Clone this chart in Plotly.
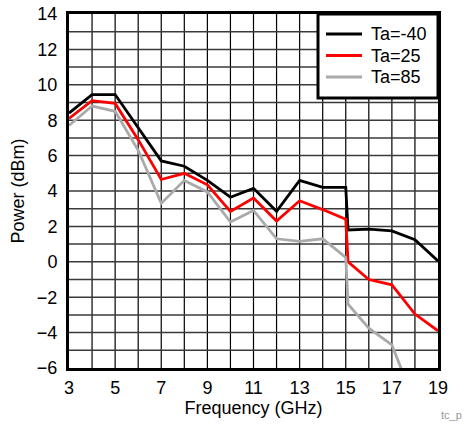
import plotly.graph_objects as go

# Output power vs frequency at three ambient temperatures
freq = [3, 4, 5, 6, 7, 8, 9, 10, 11, 12, 13, 14, 15, 15.1, 16, 17, 18, 19]
p_m40 = [8.4, 9.45, 9.45, 7.6, 5.7, 5.4, 4.6, 3.65, 4.15, 2.85, 4.6, 4.2, 4.2, 1.8, 1.85, 1.75, 1.25, 0.05]
p_25 = [8.1, 9.1, 8.95, 6.9, 4.65, 5.0, 4.35, 2.85, 3.6, 2.3, 3.45, 2.95, 2.4, 0.0, -1.0, -1.3, -2.95, -3.9]
p_85 = [7.7, 8.8, 8.5, 6.3, 3.3, 4.6, 3.95, 2.25, 2.9, 1.3, 1.15, 1.3, 0.25, -2.4, -3.75, -4.7, -8.0]

series_names = ["Ta=-40", "Ta=25", "Ta=85"]
series_colors = ["#000000", "#FF0000", "#AAAAAA"]

x_ticks = [3, 5, 7, 9, 11, 13, 15, 17, 19]
y_ticks = [-6, -4, -2, 0, 2, 4, 6, 8, 10, 12, 14]

FONT = "Liberation Sans, Arial, sans-serif"
W, H = 466, 425
ML, MR, MT, MB = 69, 28, 14, 57
PW, PH = W - ML - MR, H - MT - MB

fig = go.Figure()
for name, color, ys in zip(series_names, series_colors, [p_m40, p_25, p_85]):
    fig.add_trace(go.Scatter(x=freq[:len(ys)], y=ys, mode="lines", name=name,
                             line=dict(color=color, width=2.8)))

# grid: vertical every 1 GHz, horizontal every 1 dBm
for v in range(4, 19):
    fig.add_shape(type="line", xref="x", yref="paper", x0=v, x1=v, y0=0, y1=1,
                  line=dict(color="#000000", width=1.2), layer="below")
for h in range(-5, 14):
    fig.add_shape(type="line", xref="paper", yref="y", x0=0, x1=1, y0=h, y1=h,
                  line=dict(color="#3a3a3a", width=1.5), layer="below")


def px(xp):
    return (xp - ML) / PW


def py(yp):
    return 1 - (yp - MT) / PH


# legend box in the top-right corner of the plot
fig.add_shape(type="rect", xref="paper", yref="paper",
              x0=px(318), x1=1, y0=py(98), y1=1,
              fillcolor="white", line=dict(color="#000000", width=3), layer="above")
for i, (name, color) in enumerate(zip(series_names, series_colors)):
    yrow = 34 + i * 21.5
    fig.add_shape(type="line", xref="paper", yref="paper",
                  x0=px(326), x1=px(362), y0=py(yrow), y1=py(yrow),
                  line=dict(color=color, width=2.8), layer="above")
    fig.add_annotation(text=name, xref="paper", yref="paper", x=px(369), y=py(yrow),
                       xanchor="left", yanchor="middle", showarrow=False,
                       font=dict(family=FONT, size=18, color="#000000"))

fig.update_layout(
    width=W, height=H,
    margin=dict(l=ML, r=MR, t=MT, b=MB, autoexpand=False),
    paper_bgcolor="white", plot_bgcolor="white",
    font=dict(family=FONT, size=18, color="#000000"),
    showlegend=False,
    xaxis=dict(range=[3, 19], tickvals=x_ticks, showgrid=False, zeroline=False,
               showline=True, linecolor="#000000", linewidth=3, mirror=True,
               ticks="", tickfont=dict(size=18), ticklabelstandoff=1, automargin=False,
               title=dict(text="Frequency (GHz)", font=dict(size=18), standoff=0)),
    yaxis=dict(range=[-6, 14], tickvals=y_ticks, showgrid=False, zeroline=False,
               showline=True, linecolor="#000000", linewidth=3, mirror=True,
               ticks="", tickfont=dict(size=18), ticklabelstandoff=5, automargin=False,
               title=dict(text="Power (dBm)", font=dict(size=18), standoff=8)),
)

fig.add_annotation(text="tc_p", xref="paper", yref="paper", x=1, y=0,
                   xshift=MR - 2, yshift=-MB + 2, xanchor="right", yanchor="bottom",
                   showarrow=False, font=dict(family=FONT, size=11, color="#999999"))

fig.write_html("out.html")
